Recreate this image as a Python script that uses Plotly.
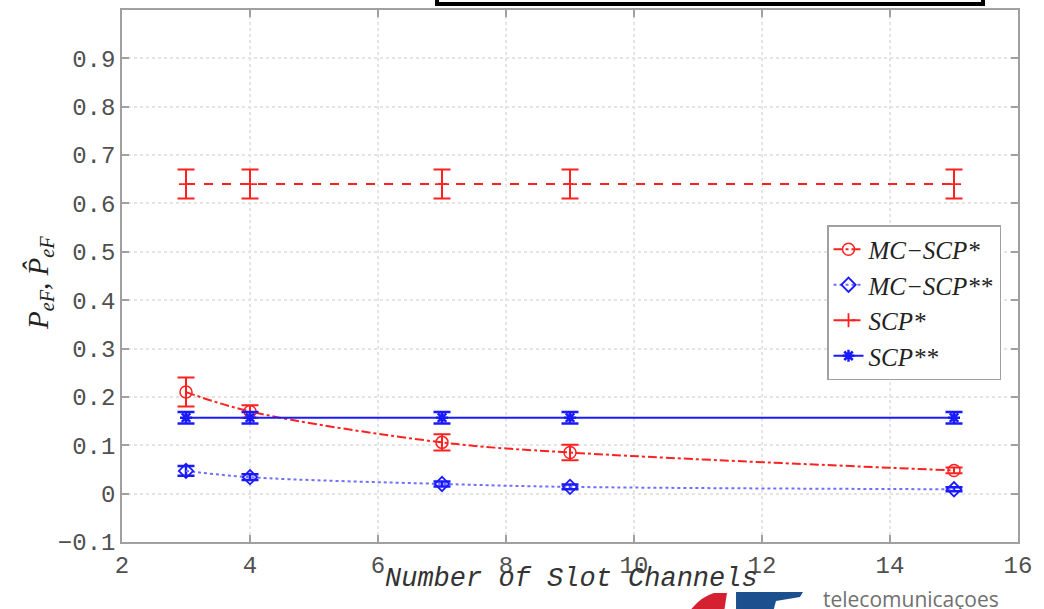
import plotly.graph_objects as go

# ---- data ----
x_vals = [3, 4, 7, 9, 15]

mc_scp1 = [0.210, 0.170, 0.106, 0.085, 0.048]
mc_scp1_err = [0.030, 0.013, 0.017, 0.016, 0.006]

mc_scp2 = [0.047, 0.034, 0.020, 0.014, 0.009]
mc_scp2_err = [0.010, 0.006, 0.005, 0.005, 0.004]

scp1 = [0.640, 0.640, 0.640, 0.640, 0.640]
scp1_err = [0.030, 0.030, 0.030, 0.030, 0.030]

scp2 = [0.157, 0.157, 0.157, 0.157, 0.157]
scp2_err = [0.012, 0.012, 0.012, 0.012, 0.012]

series_names = ["MC\u2212SCP*", "MC\u2212SCP**", "SCP*", "SCP**"]

y_ticks = [-0.1, 0, 0.1, 0.2, 0.3, 0.4, 0.5, 0.6, 0.7, 0.8, 0.9]
y_ticktext = ["\u22120.1", "0", "0.1", "0.2", "0.3", "0.4", "0.5", "0.6", "0.7", "0.8", "0.9"]
x_ticks = [2, 4, 6, 8, 10, 12, 14, 16]

RED = "#ff2020"
BLUE = "#1a1aff"
LBLUE = "#7070ff"

# plot area in pixels
L, R, T, B = 122, 1018, 10, 542
W, H = 1044, 609


def px(xp):
    return (xp - L) / (R - L)


def py(yp):
    return (B - yp) / (B - T)


fig = go.Figure()

fig.add_trace(go.Scatter(
    x=x_vals, y=mc_scp1, name="<i>" + series_names[0] + "</i>", mode="lines+markers",
    line=dict(color=RED, width=2, dash="dashdot", shape="spline", smoothing=1.0),
    marker=dict(symbol="circle-open", size=12, color=RED, line=dict(width=1.5, color=RED)),
    error_y=dict(type="data", array=mc_scp1_err, color=RED, thickness=2, width=8.5),
))
fig.add_trace(go.Scatter(
    x=x_vals, y=mc_scp2, name="<i>" + series_names[1] + "</i>", mode="lines+markers",
    line=dict(color=LBLUE, width=2, dash="dot", shape="spline", smoothing=1.0),
    marker=dict(symbol="diamond-open", size=11, color=BLUE, line=dict(width=1.8, color=BLUE)),
    error_y=dict(type="data", array=mc_scp2_err, color=BLUE, thickness=2.5, width=8.5),
))
fig.add_trace(go.Scatter(
    x=x_vals, y=scp1, name="<i>" + series_names[2] + "</i>", mode="lines+markers",
    line=dict(color=RED, width=2, dash="dash"),
    marker=dict(symbol="cross-thin-open", size=10, color=RED, line=dict(width=1.8, color=RED)),
    error_y=dict(type="data", array=scp1_err, color=RED, thickness=2, width=8.5),
))
fig.add_trace(go.Scatter(
    x=x_vals, y=scp2, name="<i>" + series_names[3] + "</i>", mode="lines+markers",
    line=dict(color=BLUE, width=2, dash="solid"),
    marker=dict(symbol="asterisk-open", size=10, color=BLUE, line=dict(width=2.5, color=BLUE)),
    error_y=dict(type="data", array=scp2_err, color=BLUE, thickness=2.5, width=8.5),
))

axis_common = dict(
    showline=True, linecolor="#a0a0a0", linewidth=1.5, mirror="ticks",
    ticks="inside", ticklen=7, tickcolor="#a0a0a0", tickwidth=1.5,
    showgrid=True, gridcolor="#e4e4e4", griddash="dot", gridwidth=1.5,
    zeroline=False,
    tickfont=dict(family="Liberation Mono, Courier New, monospace", size=24, color="#505050"),
)

fig.update_xaxes(range=[2, 16], tickvals=x_ticks, ticktext=[str(v) for v in x_ticks], **axis_common)
fig.update_yaxes(range=[-0.1, 1.0], tickvals=y_ticks, ticktext=y_ticktext, **axis_common)

fig.update_layout(
    width=W, height=H,
    margin=dict(l=L, r=W - R, t=T, b=H - B, autoexpand=False),
    paper_bgcolor="white", plot_bgcolor="white",
    showlegend=True,
    legend=dict(
        x=px(827), y=py(225), xanchor="left", yanchor="top",
        bgcolor="white", bordercolor="#a0a0a0", borderwidth=1.5,
        font=dict(family="Liberation Serif, DejaVu Serif, serif", size=25, color="#222222"),
        itemwidth=30,
    ),
    annotations=[
        dict(text="<i>Number of Slot Channels</i>", xref="paper", yref="paper",
             x=px(571), y=py(579), xanchor="center", yanchor="middle", showarrow=False,
             font=dict(family="Liberation Mono, Courier New, monospace", size=27, color="#333333")),
        dict(text="<i>P<sub>eF</sub>, P\u0302<sub>eF</sub></i>", xref="paper", yref="paper",
             x=px(40), y=py(283), xanchor="center", yanchor="middle", showarrow=False,
             textangle=-90,
             font=dict(family="Liberation Serif, DejaVu Serif, serif", size=29, color="#222222")),
        dict(text="telecomunicaçoes", xref="paper", yref="paper",
             x=px(821), y=py(599), xanchor="left", yanchor="middle", showarrow=False,
             font=dict(family="Open Sans, Noto Sans, sans-serif", size=21, color="#707070")),
    ],
    shapes=[
        dict(type="rect", xref="paper", yref="paper",
             x0=px(437), x1=px(983), y0=py(4), y1=py(-20),
             line=dict(color="black", width=4), fillcolor="white", layer="above"),
        dict(type="path", xref="paper", yref="paper",
             path=("M {:.4f},{:.4f} Q {:.4f},{:.4f} {:.4f},{:.4f} L {:.4f},{:.4f} L {:.4f},{:.4f} Z").format(
                 px(689), py(612), px(700), py(597), px(714), py(593),
                 px(727), py(593), px(724), py(612)),
             line=dict(width=0), fillcolor="#d42030", layer="above"),
        dict(type="path", xref="paper", yref="paper",
             path=("M {:.4f},{:.4f} L {:.4f},{:.4f} L {:.4f},{:.4f} L {:.4f},{:.4f} "
                   "L {:.4f},{:.4f} L {:.4f},{:.4f} Z").format(
                 px(736), py(612), px(736), py(592), px(803), py(592),
                 px(800), py(597), px(776), py(601), px(773), py(612)),
             line=dict(width=0), fillcolor="#1b4f8e", layer="above"),
    ],
)

fig.write_html("out.html", config={"displayModeBar": False},
               post_script="document.body.style.margin='0';")
